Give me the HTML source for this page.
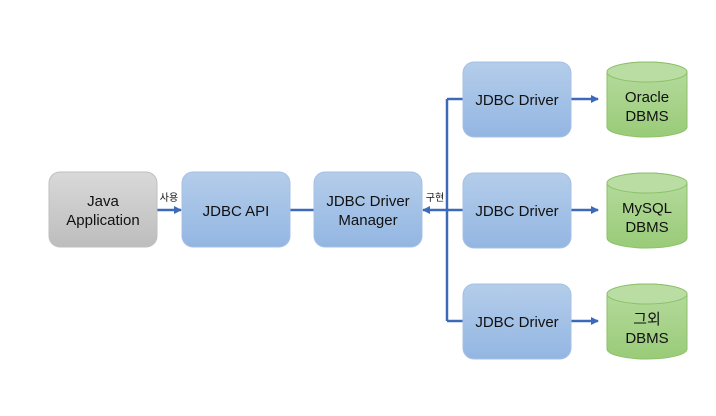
<!DOCTYPE html>
<html><head><meta charset="utf-8"><style>body{margin:0;background:#fff}svg text{font-family:"Liberation Sans","Noto Sans CJK KR",sans-serif}</style></head><body>
<svg width="716" height="411" viewBox="0 0 716 411" xmlns="http://www.w3.org/2000/svg">
<defs>
<linearGradient id="g" x1="0" y1="0" x2="0" y2="1"><stop offset="0" stop-color="#d9d9d9"/><stop offset="1" stop-color="#bdbdbd"/></linearGradient>
<linearGradient id="b" x1="0" y1="0" x2="0" y2="1"><stop offset="0" stop-color="#b4cdea"/><stop offset="1" stop-color="#93b6e2"/></linearGradient>
<linearGradient id="gr" x1="0" y1="0" x2="0" y2="1"><stop offset="0" stop-color="#b7dca0"/><stop offset="1" stop-color="#99cb78"/></linearGradient>
<marker id="a" markerWidth="8" markerHeight="8" refX="7" refY="4" orient="auto" markerUnits="userSpaceOnUse"><path d="M0,0 L8,4 L0,8 z" fill="#3d6ab8"/></marker>
</defs>
<g stroke="#3d6ab8" stroke-width="2.5" fill="none">
<line x1="157" y1="210" x2="181" y2="210" marker-end="url(#a)"/>
<line x1="290" y1="210" x2="314" y2="210"/>
<line x1="447" y1="99" x2="447" y2="321"/>
<line x1="447" y1="99" x2="463" y2="99"/>
<line x1="447" y1="321" x2="463" y2="321"/>
<line x1="463" y1="210" x2="423" y2="210" marker-end="url(#a)"/>
<line x1="571" y1="99" x2="598" y2="99" marker-end="url(#a)"/>
<line x1="571" y1="210" x2="598" y2="210" marker-end="url(#a)"/>
<line x1="571" y1="321" x2="598" y2="321" marker-end="url(#a)"/>
</g>
<rect x="49" y="172" width="108" height="75" rx="11" fill="url(#g)" stroke="#bfbfbf"/>
<rect x="182" y="172" width="108" height="75" rx="11" fill="url(#b)" stroke="#a5c0e4"/>
<rect x="314" y="172" width="108" height="75" rx="11" fill="url(#b)" stroke="#a5c0e4"/>
<rect x="463" y="62" width="108" height="75" rx="11" fill="url(#b)" stroke="#a5c0e4"/>
<rect x="463" y="173" width="108" height="75" rx="11" fill="url(#b)" stroke="#a5c0e4"/>
<rect x="463" y="284" width="108" height="75" rx="11" fill="url(#b)" stroke="#a5c0e4"/>
<g fill="url(#gr)" stroke="#8cc06a">
<path d="M607,72 v55 a40,10 0 0 0 80,0 v-55 a40,10 0 0 0 -80,0 z"/><ellipse cx="647" cy="72" rx="40" ry="10" fill="#b9dda3"/>
<path d="M607,183 v55 a40,10 0 0 0 80,0 v-55 a40,10 0 0 0 -80,0 z"/><ellipse cx="647" cy="183" rx="40" ry="10" fill="#b9dda3"/>
<path d="M607,294 v55 a40,10 0 0 0 80,0 v-55 a40,10 0 0 0 -80,0 z"/><ellipse cx="647" cy="294" rx="40" ry="10" fill="#b9dda3"/>
</g>
<g font-size="15" fill="#111" text-anchor="middle">
<text x="103" y="206">Java</text><text x="103" y="225">Application</text>
<text x="236" y="216">JDBC API</text>
<text x="368" y="206">JDBC Driver</text><text x="368" y="225">Manager</text>
<text x="517" y="105">JDBC Driver</text>
<text x="517" y="216">JDBC Driver</text>
<text x="517" y="327">JDBC Driver</text>
<text x="647" y="102">Oracle</text><text x="647" y="121">DBMS</text>
<text x="647" y="213">MySQL</text><text x="647" y="232">DBMS</text>
<text x="647" y="324">그외</text><text x="647" y="343">DBMS</text>
<text x="169" y="201" font-size="10">사용</text>
<text x="435" y="201" font-size="10">구현</text>
</g>
</svg>
</body></html>
